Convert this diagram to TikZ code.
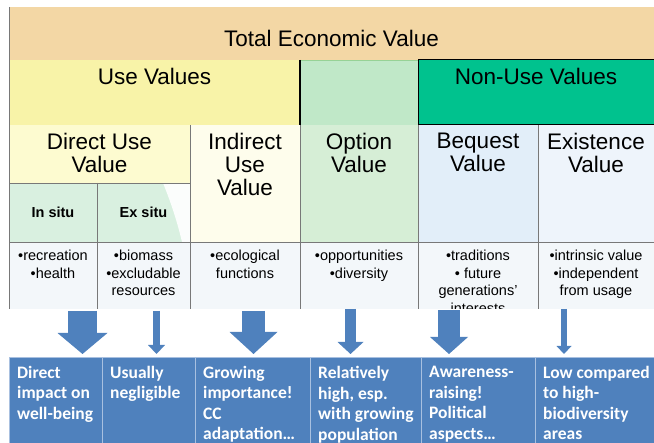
\documentclass[tikz,border=0pt]{standalone}
\usepackage{fontspec}
\setmainfont{Liberation Sans}
\newfontfamily\boxfont{Carlito}
\usetikzlibrary{positioning,arrows.meta}

\definecolor{tevtan}{RGB}{243,215,165}
\definecolor{useyellow}{RGB}{248,243,168}
\definecolor{optgreen}{RGB}{192,232,200}
\definecolor{optedge}{RGB}{150,210,150}
\definecolor{nonteal}{RGB}{0,194,142}
\definecolor{directyellow}{RGB}{253,251,208}
\definecolor{situgreen}{RGB}{217,240,224}
\definecolor{indirectcream}{RGB}{254,253,236}
\definecolor{optionlight}{RGB}{214,238,214}
\definecolor{bequestblue}{RGB}{226,238,249}
\definecolor{existblue}{RGB}{238,244,251}
\definecolor{rowgray}{RGB}{243,247,250}
\definecolor{gridgray}{RGB}{120,120,120}
\definecolor{boxblue}{RGB}{79,129,189}
\definecolor{boxedge}{RGB}{168,192,224}

\tikzset{
  cell/.style={rectangle, outer sep=0pt, inner sep=0pt, anchor=north west},
  gridline/.style={draw=gridgray, line width=0.8pt},
  headtext/.style={font=\fontsize{22.5}{23}\selectfont, align=center, inner sep=0pt, anchor=north, yshift=-#1},
  headtext/.default=8pt,
  listtext/.style={font=\fontsize{14.5}{17.5}\selectfont, align=center, inner sep=0pt, anchor=north, yshift=-8pt},
  situtext/.style={font=\bfseries\fontsize{14.5}{15}\selectfont},
  bluebox/.style={rectangle, draw=boxedge, line width=0.8pt, fill=boxblue, outer sep=0pt, inner sep=0pt, minimum height=86pt, anchor=north west},
  boxtext/.style={font=\boxfont\bfseries\fontsize{17.5}{20.5}\selectfont, text=white, align=left, inner sep=0pt, anchor=north west, xshift=8pt, yshift=-9pt},
  blockarrow/.style n args={3}{draw=boxblue, line width=#1, -{Triangle[width=#2, length=#3, line width=0pt]}},
}

\begin{document}
\begin{tikzpicture}[x=1pt, y=-1pt]
\useasboundingbox (0,0) rectangle (654,443);

\begin{scope}
\clip (0,0) rectangle (654,309);
% value bands
\node (tev) [cell, fill=tevtan, minimum width=645pt, minimum height=53pt, label={[headtext=23pt]north:Total Economic Value}] at (9,7) {};
\node (use) [cell, fill=useyellow, minimum width=291pt, minimum height=65pt, below right=0pt and 0pt of tev.south west, label={[headtext]north:Use Values}] {};
\node (optband) [cell, draw=optedge, line width=0.8pt, fill=optgreen, minimum width=118pt, minimum height=65pt, right=0pt of use] {};
\node (nonuse) [cell, fill=nonteal, minimum width=236pt, minimum height=65pt, right=0pt of optband, label={[headtext]north:Non-Use Values}] {};

% value types
\node (direct) [cell, fill=directyellow, minimum width=181pt, minimum height=58pt, below right=0pt and 0pt of use.south west, label={[headtext]north:{Direct Use\\Value}}] {};
\node (insitu) [cell, fill=situgreen, minimum width=88pt, minimum height=59pt, below right=0pt and 0pt of direct.south west, situtext] {In situ};
\node (exsitu) [cell, fill=situgreen, minimum width=93pt, minimum height=59pt, right=0pt of insitu, situtext,
  path picture={\fill[white!90!situgreen] ([shift={(66,0)}]path picture bounding box.north west) .. controls ([shift={(75,22)}]path picture bounding box.north west) and ([shift={(81,42)}]path picture bounding box.north west) .. ([shift={(85,59)}]path picture bounding box.north west) -- (path picture bounding box.south east) -- (path picture bounding box.north east) -- cycle;}] {Ex situ};
\node (indirect) [cell, fill=indirectcream, minimum width=110pt, minimum height=117pt, below right=0pt and 0pt of direct.north east, label={[headtext]north:{Indirect\\Use\\Value}}] {};
\node (option) [cell, fill=optionlight, minimum width=118pt, minimum height=117pt, right=0pt of indirect, label={[headtext]north:{Option\\Value}}] {};
\node (bequest) [cell, fill=bequestblue, minimum width=120pt, minimum height=117pt, right=0pt of option, label={[headtext]north:{Bequest\\Value}}] {};
\node (exist) [cell, fill=existblue, minimum width=116pt, minimum height=117pt, right=0pt of bequest, label={[headtext]north:{Existence\\Value}}] {};

% examples row
\node (r1) [cell, fill=rowgray, minimum width=88pt, minimum height=67pt, below=0pt of insitu, label={[listtext]north:{•recreation\\•health}}] {};
\node (r2) [cell, fill=rowgray, minimum width=93pt, minimum height=67pt, below=0pt of exsitu, label={[listtext]north:{•biomass\\•excludable\\resources}}] {};
\node (r3) [cell, fill=rowgray, minimum width=110pt, minimum height=67pt, below=0pt of indirect, label={[listtext]north:{•ecological\\functions}}] {};
\node (r4) [cell, fill=rowgray, minimum width=118pt, minimum height=67pt, below=0pt of option, label={[listtext]north:{•opportunities\\•diversity}}] {};
\node (r5) [cell, fill=rowgray, minimum width=120pt, minimum height=67pt, below=0pt of bequest, label={[listtext]north:{•traditions\\• future\\generations’\\interests}}] {};
\node (r6) [cell, fill=rowgray, minimum width=116pt, minimum height=67pt, below=0pt of exist, label={[listtext]north:{•intrinsic value\\•independent\\from usage}}] {};

% grid
\draw[gridline] (tev.north west) -- (r1.south west);
\draw[gridline] (insitu.north east) -- (r1.south east);
\draw[gridline] (direct.north east) -- (r2.south east);
\draw[gridline] (indirect.north east) -- (r3.south east);
\draw[gridline] (option.north east) -- (r4.south east);
\draw[gridline] (bequest.north east) -- (r5.south east);
\draw[gridline] (direct.south west) -- (direct.south east);
\draw[gridline] (r1.north west) -- (r6.north east);
\draw[black, line width=1.2pt] (use.north east) -- (use.south east);
\draw[black, line width=1pt] (nonuse.south east) -- (nonuse.south west) -- (nonuse.north west) -- (nonuse.north east);
\end{scope}

% assessment boxes
\node (d1) [bluebox, minimum width=93pt, label={[boxtext]north west:{Direct\\impact on\\well-being}}] at (9,357) {};
\node (d2) [bluebox, minimum width=93pt, right=0pt of d1, label={[boxtext]north west:{Usually\\negligible}}] {};
\node (d3) [bluebox, minimum width=115pt, right=0pt of d2, label={[boxtext]north west:{Growing\\importance!\\CC\\adaptation…}}] {};
\node (d4) [bluebox, minimum width=111pt, right=0pt of d3, label={[boxtext]north west:{Relatively\\high, esp.\\with growing\\population}}] {};
\node (d5) [bluebox, minimum width=114pt, right=0pt of d4, label={[boxtext]north west:{Awareness-\\raising!\\Political\\aspects…}}] {};
\node (d6) [bluebox, minimum width=119pt, right=0pt of d5, label={[boxtext]north west:{Low compared\\to high-\\biodiversity\\areas}}] {};

\draw[blockarrow={29pt}{50pt}{21pt}] ([xshift=27pt, yshift=-2pt]d1.north |- r1.south) -- ([xshift=27pt, yshift=3pt]d1.north);
\draw[blockarrow={7pt}{17pt}{9pt}] ([xshift=8pt, yshift=-2pt]d2.north |- r2.south) -- ([xshift=8pt, yshift=3pt]d2.north);
\draw[blockarrow={23pt}{48pt}{22pt}] ([xshift=1pt, yshift=-2pt]d3.north |- r3.south) -- ([xshift=1pt, yshift=3pt]d3.north);
\draw[blockarrow={11pt}{26pt}{12pt}] ([xshift=-15pt]d4.north |- r4.south) -- ([xshift=-15pt, yshift=3pt]d4.north);
\draw[blockarrow={22pt}{38pt}{17pt}] ([xshift=-29pt, yshift=-1pt]d5.north |- r5.south) -- ([xshift=-29pt, yshift=3pt]d5.north);
\draw[blockarrow={6pt}{15pt}{8pt}] ([xshift=-30.5pt]d6.north |- r6.south) -- ([xshift=-30.5pt, yshift=3pt]d6.north);
\end{tikzpicture}
\end{document}
